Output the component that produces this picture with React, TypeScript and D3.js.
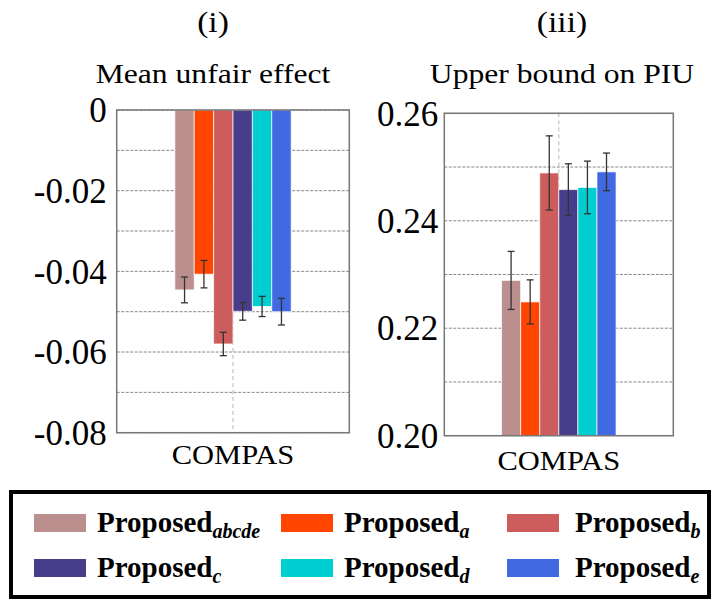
import React from "react";
import * as d3 from "d3";

const series = ["abcde", "a", "b", "c", "d", "e"];
const colors = ["#BC8F8F", "#FF4500", "#CD5C5C", "#483D8B", "#00CED1", "#4169E1"];

const unfairMean = [-0.0446, -0.0407, -0.058, -0.0499, -0.0487, -0.05];
const unfairErr = [0.0032, 0.0034, 0.0029, 0.0022, 0.0025, 0.0033];
const unfairTicks = [0, -0.02, -0.04, -0.06, -0.08];
const unfairTickLabels = ["0", "-0.02", "-0.04", "-0.06", "-0.08"];

const piuMean = [0.2289, 0.2249, 0.2489, 0.2458, 0.2462, 0.2491];
const piuErr = [0.0054, 0.0041, 0.0069, 0.0048, 0.0049, 0.0035];
const piuTicks = [0.2, 0.22, 0.24, 0.26];
const piuTickLabels = ["0.20", "0.22", "0.24", "0.26"];

const category = "COMPAS";
const FONT = "Liberation Serif, Tinos, Times New Roman, DejaVu Serif, serif";

// stretched text, the source figure was scaled wider than tall
const SText = ({ x, y, sx, size, children }: any) => (
  <text transform={`translate(${x},${y}) scale(${sx},1)`} fontSize={size} textAnchor="middle">
    {children}
  </text>
);

type PanelProps = {
  left: number;
  right: number;
  top: number;
  bottom: number;
  domain: [number, number];
  base: number;
  means: number[];
  errs: number[];
  ticks: number[];
  tickLabels: string[];
  tickGap: number;
  catY: number;
  label: string;
  roman: string;
  titleX: number;
};

const Panel = (p: PanelProps) => {
  const y = d3.scaleLinear().domain(p.domain).range([p.bottom, p.top]);
  const cx = (p.left + p.right) / 2;
  const half = (p.right - p.left) / 4;
  const x = d3.scaleBand().domain(series).range([cx - half, cx + half]).padding(0);
  const lo = Math.min(p.domain[0], p.domain[1]);
  const hi = Math.max(p.domain[0], p.domain[1]);
  const gridVals = d3.range(Math.round(lo * 100), Math.round(hi * 100) + 1).map(v => v / 100);

  return (
    <g style={{ fontFamily: FONT }}>
      <SText x={p.titleX} y={32} sx={1.12} size={30}>
        {p.roman}
      </SText>
      <SText x={p.titleX} y={83} sx={1.13} size={28}>
        {p.label}
      </SText>
      {gridVals.map(v => (
        <line
          key={v}
          x1={p.left}
          x2={p.right}
          y1={y(v)}
          y2={y(v)}
          stroke="#888"
          strokeWidth={1}
          strokeDasharray="3,1.5"
        />
      ))}
      <line x1={cx} x2={cx} y1={p.top} y2={p.bottom} stroke="#c4c4c4" strokeWidth={1.2} strokeDasharray="4,3" />
      {series.map((s, i) => {
        const y0 = y(p.base);
        const y1 = y(p.means[i]);
        return (
          <rect
            key={s}
            x={x(s)}
            width={x.bandwidth()}
            y={Math.min(y0, y1)}
            height={Math.abs(y1 - y0)}
            fill={colors[i]}
            stroke="#fff"
            strokeOpacity={0.7}
            strokeWidth={1}
          />
        );
      })}
      {series.map((s, i) => {
        const mx = (x(s) as number) + x.bandwidth() / 2;
        const a = y(p.means[i] + p.errs[i]);
        const b = y(p.means[i] - p.errs[i]);
        return (
          <g key={s} stroke="#333" strokeWidth={1.3}>
            <line x1={mx} x2={mx} y1={a} y2={b} />
            <line x1={mx - 3.5} x2={mx + 3.5} y1={a} y2={a} />
            <line x1={mx - 3.5} x2={mx + 3.5} y1={b} y2={b} />
          </g>
        );
      })}
      <rect
        x={p.left}
        y={p.top}
        width={p.right - p.left}
        height={p.bottom - p.top}
        fill="none"
        stroke="#777"
        strokeWidth={1.5}
      />
      {p.ticks.map((t, i) => (
        <text key={t} x={p.left - p.tickGap} y={y(t)} dy="0.35em" fontSize={35} textAnchor="end">
          {p.tickLabels[i]}
        </text>
      ))}
      <SText x={cx} y={p.catY} sx={1.09} size={28}>
        {category}
      </SText>
    </g>
  );
};

const legendSwatchX = [34, 281, 507];
const legendTextX = [97, 344, 575];
const legendRows = [523, 568];

const App = () => {
  return (
    <svg width={719} height={601} style={{ position: "absolute", left: 0, top: 0, background: "#fff" }}>
      <Panel
        left={116.7}
        right={349.3}
        top={110}
        bottom={432.7}
        domain={[-0.08, 0]}
        base={0}
        means={unfairMean}
        errs={unfairErr}
        ticks={unfairTicks}
        tickLabels={unfairTickLabels}
        tickGap={10}
        catY={464}
        label="Mean unfair effect"
        roman="(i)"
        titleX={213}
      />
      <Panel
        left={444.3}
        right={673.3}
        top={113.3}
        bottom={435.7}
        domain={[0.2, 0.26]}
        base={0.2}
        means={piuMean}
        errs={piuErr}
        ticks={piuTicks}
        tickLabels={piuTickLabels}
        tickGap={6}
        catY={470}
        label="Upper bound on PIU"
        roman="(iii)"
        titleX={562}
      />
      <rect x={11} y={492} width={698} height={105} fill="none" stroke="#000" strokeWidth={4} />
      {series.map((s, i) => {
        const col = i % 3;
        const cy = legendRows[Math.floor(i / 3)];
        return (
          <g key={s} style={{ fontFamily: FONT }}>
            <rect x={legendSwatchX[col]} y={cy - 9} width={52} height={18} fill={colors[i]} />
            <text x={legendTextX[col]} y={cy + 9} fontSize={29} fontWeight="bold">
              Proposed
              <tspan fontSize={20} fontStyle="italic" dy={6}>
                {s}
              </tspan>
            </text>
          </g>
        );
      })}
    </svg>
  );
};

export default App;
